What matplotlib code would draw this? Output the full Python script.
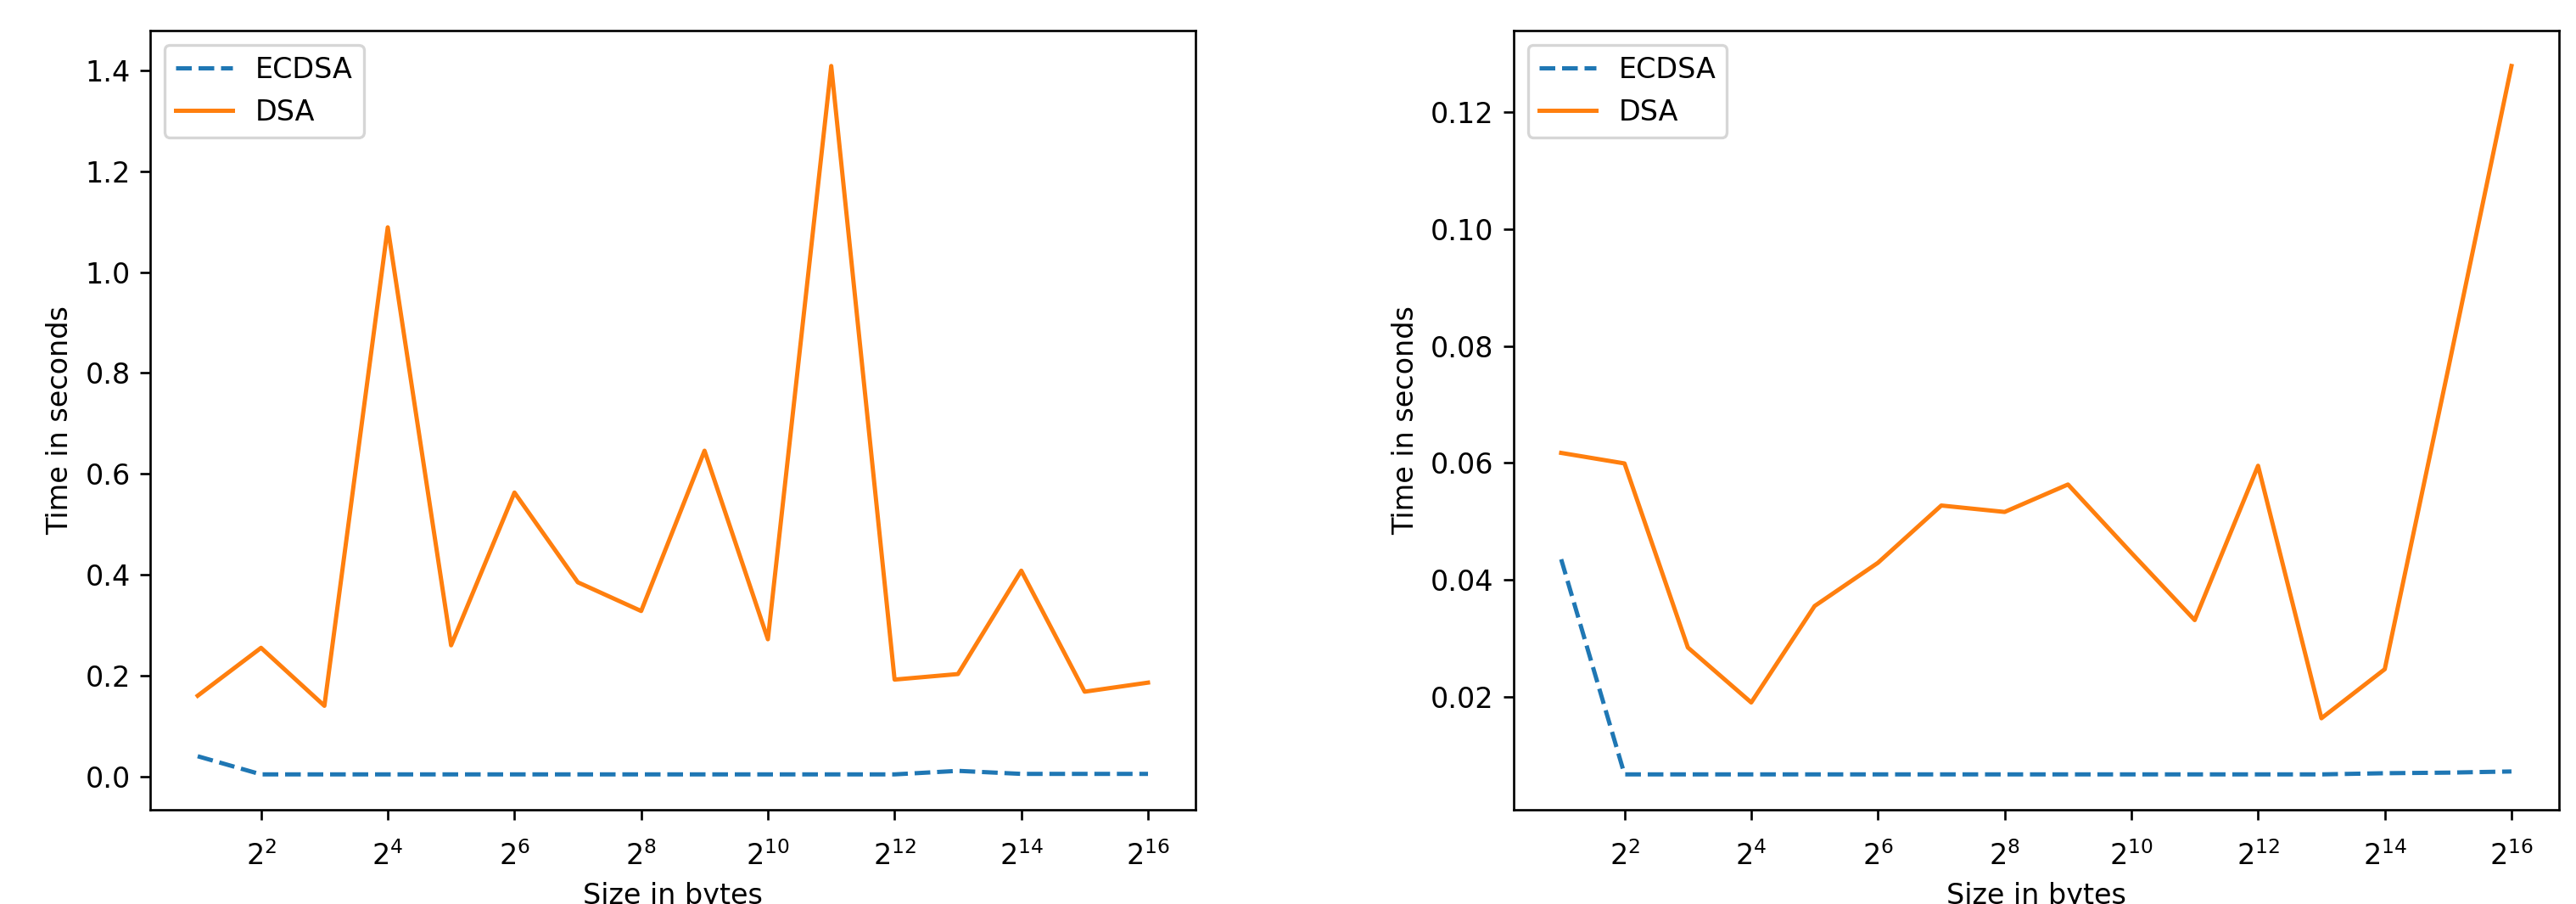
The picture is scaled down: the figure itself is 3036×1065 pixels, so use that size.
import matplotlib
matplotlib.use("Agg")
import matplotlib.pyplot as plt
from matplotlib.ticker import NullLocator

# message sizes 2^1 .. 2^16 bytes
sizes = [2 ** k for k in range(1, 17)]
xticks = [2 ** k for k in range(2, 17, 2)]

# left panel
ecdsa_left = [0.040, 0.004, 0.004, 0.004, 0.004, 0.004, 0.004, 0.004,
              0.004, 0.004, 0.004, 0.004, 0.011, 0.005, 0.005, 0.005]
dsa_left = [0.160, 0.255, 0.140, 1.089, 0.260, 0.563, 0.385, 0.328,
            0.646, 0.272, 1.409, 0.192, 0.203, 0.408, 0.168, 0.186]

# right panel
ecdsa_right = [0.0435, 0.0067, 0.0067, 0.0067, 0.0067, 0.0067, 0.0067, 0.0067,
               0.0067, 0.0067, 0.0067, 0.0067, 0.0067, 0.0069, 0.0070, 0.0072]
dsa_right = [0.0617, 0.0599, 0.0284, 0.0190, 0.0355, 0.0429, 0.0527, 0.0516,
             0.0563, 0.0446, 0.0331, 0.0595, 0.0163, 0.0247, 0.0760, 0.1279]

fig = plt.figure(figsize=(3036 / 240, 1065 / 240), dpi=240)
ax1 = fig.add_axes([0.0583, 0.1042, 0.4058, 0.862])
ax2 = fig.add_axes([0.5876, 0.1042, 0.4058, 0.862])

for ax, ecdsa, dsa in [(ax1, ecdsa_left, dsa_left), (ax2, ecdsa_right, dsa_right)]:
    ax.plot(sizes, ecdsa, '--', label='ECDSA')
    ax.plot(sizes, dsa, label='DSA')
    ax.set_xscale('log', base=2)
    ax.set_xticks(xticks)
    ax.xaxis.set_minor_locator(NullLocator())
    ax.tick_params(axis='x', pad=7.7)
    ax.set_xlabel('Size in bytes')
    ax.set_ylabel('Time in seconds')
    ax.legend(loc='upper left')

fig.savefig('out.png', dpi=240)
